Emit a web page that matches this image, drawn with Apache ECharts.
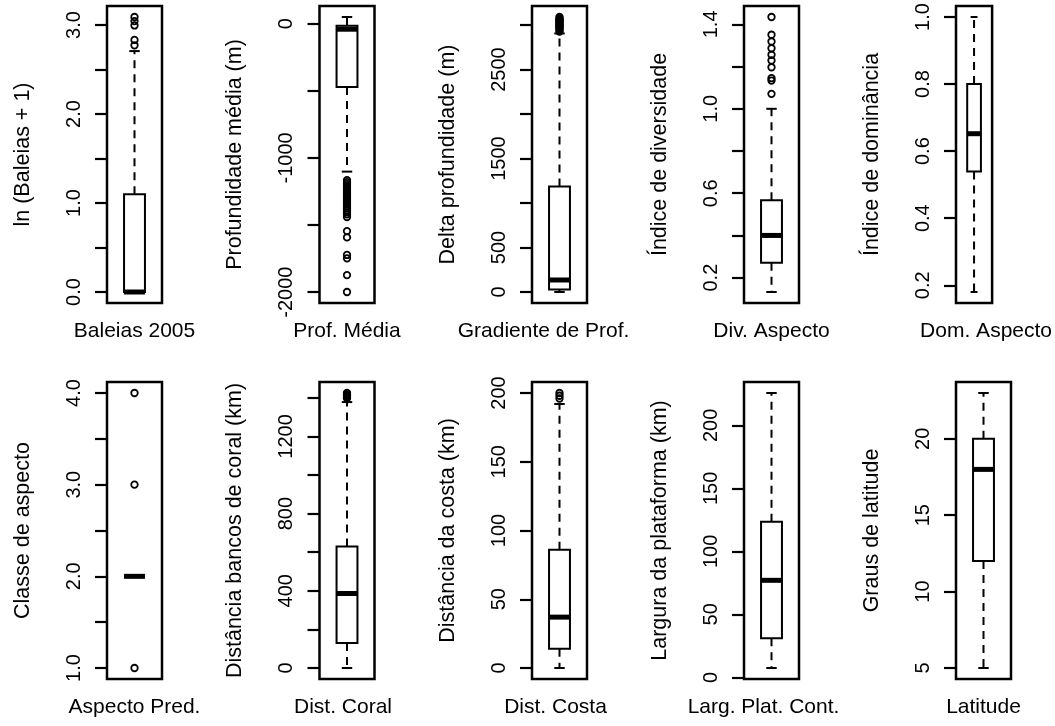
<!DOCTYPE html>
<html>
<head>
<meta charset="utf-8">
<script src="https://cdn.jsdelivr.net/npm/echarts@6/dist/echarts.min.js"></script>
<style>
html,body{margin:0;padding:0;background:#fff;}
#chart{width:1055px;height:726px;}
</style>
</head>
<body>
<div id="chart"></div>
<script>
// ---- data ----
const xLabels = ["Baleias 2005","Prof. Média","Gradiente de Prof.","Div. Aspecto","Dom. Aspecto",
                 "Aspecto Pred.","Dist. Coral","Dist. Costa","Larg. Plat. Cont.","Latitude"];
const yTitles = ["ln (Baleias + 1)","Profundidade média (m)","Delta profundidade (m)","Índice de diversidade","Índice de dominância",
                 "Classe de aspecto","Distância bancos de coral (km)","Distância da costa (km)","Largura da plataforma (km)","Graus de latitude"];

// box stats: [lower whisker, Q1, median, Q3, upper whisker]
const box1 = [0, 0, 0, 1.0986, 2.708];
const box2 = [-1102, -472, -41, -15, 50];
const box3 = [0, 28, 135, 1185, 2905];
const box4 = [0.132, 0.271, 0.40, 0.567, 1.0];
const box5 = [0.18, 0.539, 0.652, 0.80, 1.0];
const box6 = [2, 2, 2, 2, 2];
const box7 = [0, 129, 386, 630, 1378];
const box8 = [0, 14, 37, 86, 192];
const box9 = [7.4, 31, 77, 123.5, 225.7];
const box10 = [5, 12, 18, 20, 23];

// outliers
const out1 = [2.773, 2.833, 2.996, 3.045, 3.091];
const out2 = [-1165,-1180,-1195,-1210,-1225,-1240,-1255,-1270,-1285,-1300,-1315,-1330,-1345,-1360,-1375,-1390,-1405,-1420,-1440,-1545,-1592,-1723,-1748,-1873,-1999];
const out3 = [2925,2940,2955,2965,2975,2985,2995,3005,3015,3025,3035,3045,3055,3065,3075,3090];
const out4 = [1.071,1.134,1.145,1.197,1.229,1.256,1.287,1.319,1.351,1.435];
const out5 = [];
const out6 = [1, 3, 4];
const out7 = [1398, 1405, 1412, 1418, 1425];
const out8 = [196, 198, 200];
const out9 = [];
const out10 = [];

// ticks and tick labels
const ticks1 = [0,0.5,1,1.5,2,2.5,3];           const labels1 = ["0.0","1.0","2.0","3.0"];
const ticks2 = [-2000,-1500,-1000,-500,0];      const labels2 = ["-2000","-1000","0"];
const ticks3 = [0,500,1000,1500,2000,2500,3000];const labels3 = ["0","500","1500","2500"];
const ticks4 = [0.2,0.4,0.6,0.8,1.0,1.2,1.4];   const labels4 = ["0.2","0.6","1.0","1.4"];
const ticks5 = [0.2,0.4,0.6,0.8,1.0];           const labels5 = ["0.2","0.4","0.6","0.8","1.0"];
const ticks6 = [1,1.5,2,2.5,3,3.5,4];           const labels6 = ["1.0","2.0","3.0","4.0"];
const ticks7 = [0,200,400,600,800,1000,1200,1400]; const labels7 = ["0","400","800","1200"];
const ticks8 = [0,50,100,150,200];              const labels8 = ["0","50","100","150","200"];
const ticks9 = [0,50,100,150,200];              const labels9 = ["0","50","100","150","200"];
const ticks10 = [5,10,15,20];                   const labels10 = ["5","10","15","20"];

const boxes = [box1,box2,box3,box4,box5,box6,box7,box8,box9,box10];
const outs = [out1,out2,out3,out4,out5,out6,out7,out8,out9,out10];
const ticks = [ticks1,ticks2,ticks3,ticks4,ticks5,ticks6,ticks7,ticks8,ticks9,ticks10];
const labels = [labels1,labels2,labels3,labels4,labels5,labels6,labels7,labels8,labels9,labels10];

// ---- layout ----
const colLeft = [107, 319.5, 532, 744, 956];
const rowTop = [6, 382];
const gridW = 55, gridH = 297;
const labelShift = [0,0,-16,0,12,0,-4,-4,-8,0];
const FONT = '"Liberation Sans", Arial, Helvetica, sans-serif';

function renderBox(params, api) {
  const x = api.value(0);
  const low = api.coord([x, api.value(1)]);
  const q1 = api.coord([x, api.value(2)]);
  const med = api.coord([x, api.value(3)]);
  const q3 = api.coord([x, api.value(4)]);
  const high = api.coord([x, api.value(5)]);
  const bw = api.size([1, 0])[0] * 0.38;
  const cx = low[0];
  const ch = [];
  const dash = {stroke:'#000', lineWidth:2, lineDash:[8,6], fill:null};
  const solid = {stroke:'#000', lineWidth:2, fill:null};
  if (high[1] < q3[1] - 0.5) ch.push({type:'line', shape:{x1:cx,y1:q3[1],x2:cx,y2:high[1]}, style:dash});
  if (low[1] > q1[1] + 0.5) ch.push({type:'line', shape:{x1:cx,y1:q1[1],x2:cx,y2:low[1]}, style:dash});
  ch.push({type:'line', shape:{x1:cx-bw/4,y1:high[1],x2:cx+bw/4,y2:high[1]}, style:solid});
  ch.push({type:'line', shape:{x1:cx-bw/4,y1:low[1],x2:cx+bw/4,y2:low[1]}, style:solid});
  ch.push({type:'rect', shape:{x:cx-bw/2, y:q3[1], width:bw, height:Math.max(0, q1[1]-q3[1])},
           style:{fill:'#fff', stroke:'#000', lineWidth:2}});
  ch.push({type:'line', shape:{x1:cx-bw/2,y1:med[1],x2:cx+bw/2,y2:med[1]}, style:{stroke:'#000', lineWidth:5}});
  return {type:'group', children:ch};
}

const grids = [], xAxes = [], yAxes = [], series = [];
for (let i = 0; i < 10; i++) {
  const r = Math.floor(i / 5), c = i % 5;
  grids.push({left: colLeft[c], top: rowTop[r], width: gridW, height: gridH,
              show: true, borderColor: '#000', borderWidth: 2.5, backgroundColor: 'transparent'});
  const sh = labelShift[i];
  xAxes.push({type:'category', gridIndex:i, data:[xLabels[i]], boundaryGap:true,
    axisLine:{show:false}, axisTick:{show:false}, splitLine:{show:false},
    axisLabel:{fontSize:21, fontFamily:FONT, color:'#000', margin:18,
               padding:[0, sh < 0 ? -2*sh : 0, 0, sh > 0 ? 2*sh : 0]}});
  const b = boxes[i], o = outs[i];
  const lo = Math.min(b[0], ...o), hi = Math.max(b[4], ...o);
  const pad = (hi - lo) * 0.04;
  const lab = labels[i];
  yAxes.push({type:'value', gridIndex:i, min: lo - pad, max: hi + pad,
    name: yTitles[i], nameLocation:'middle', nameRotate:90, nameGap:73,
    nameTextStyle:{fontSize:21.5, fontFamily:FONT, color:'#000'},
    axisLine:{show:false}, splitLine:{show:false},
    axisTick:{show:true, length:12, inside:false, lineStyle:{color:'#000', width:2.2}, customValues: ticks[i]},
    axisLabel:{show:true, rotate:90, fontSize:20, fontFamily:FONT, color:'#000', margin:23,
      customValues: lab.map(Number),
      formatter: function(v){ for (const s of lab) { if (Math.abs(Number(s) - v) < 1e-9) return s; } return ''; }}
  });
  series.push({type:'custom', xAxisIndex:i, yAxisIndex:i, renderItem: renderBox,
    encode:{x:0, y:[1,2,3,4,5]}, data:[[0, b[0], b[1], b[2], b[3], b[4]]], z:2, silent:true});
  series.push({type:'scatter', xAxisIndex:i, yAxisIndex:i, symbol:'circle', symbolSize:6.5,
    itemStyle:{color:'rgba(0,0,0,0)', borderColor:'#000', borderWidth:1.8, opacity:1},
    data: o.map(v => [0, v]), z:3, silent:true});
}

const chart = echarts.init(document.getElementById('chart'), null, {renderer:'canvas'});
chart.setOption({
  animation:false,
  backgroundColor:'#fff',
  textStyle:{fontFamily:FONT},
  grid: grids, xAxis: xAxes, yAxis: yAxes, series: series
});
</script>
</body>
</html>
